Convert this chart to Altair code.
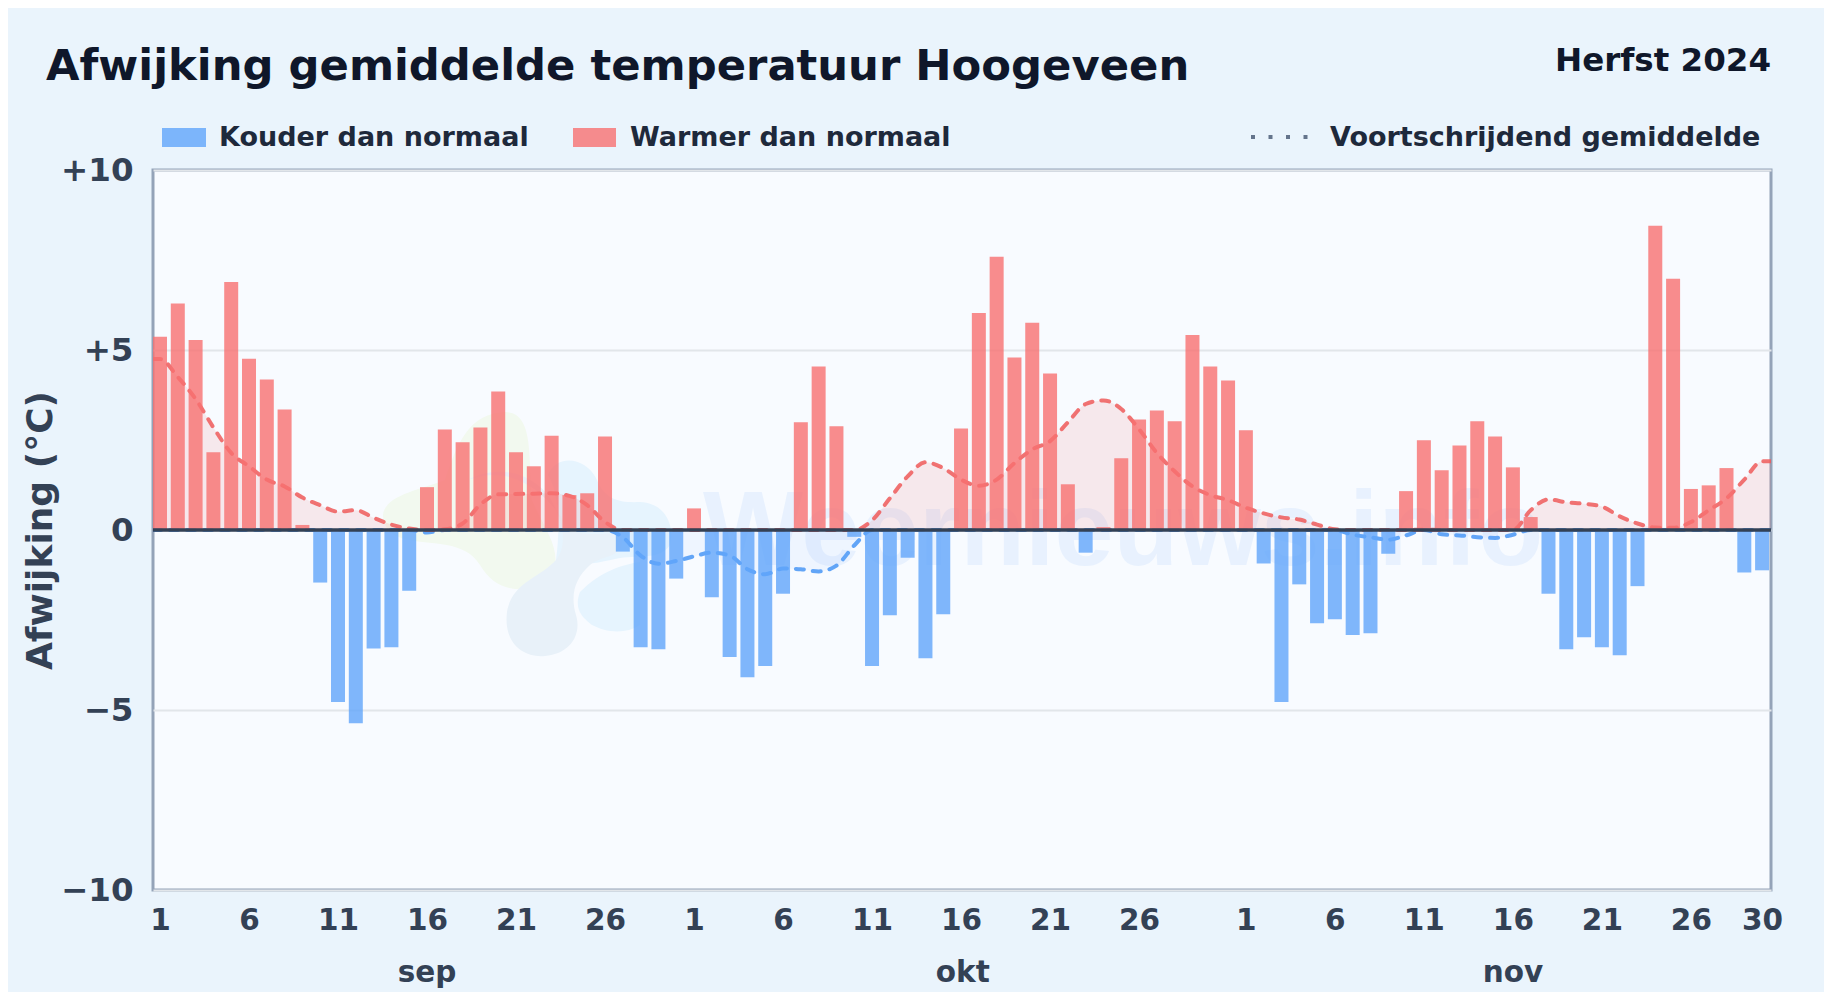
import altair as alt
import pandas as pd

DEV = [5.37, 6.29, 5.28, 2.16, 6.89, 4.76, 4.18, 3.35, 0.14, -1.46, -4.78, -5.37, -3.29, -3.26, -1.69,
       1.19, 2.79, 2.44, 2.85, 3.85, 2.16, 1.77, 2.62, 0.97, 1.02, 2.60, -0.60, -3.26, -3.31, -1.35,
       0.60, -1.87, -3.53, -4.09, -3.78, -1.77, 2.99, 4.54, 2.88, -0.19, -3.78, -2.37, -0.77, -3.56, -2.34,
       2.82, 6.03, 7.59, 4.79, 5.76, 4.35, 1.27, -0.63, 0.08, 1.99, 3.07, 3.32, 3.02, 5.42, 4.54, 4.15,
       2.77, -0.93, -4.78, -1.51, -2.59, -2.48, -2.92, -2.87, -0.66, 1.08, 2.49, 1.66, 2.35, 3.02, 2.60,
       1.74, 0.36, -1.77, -3.31, -2.98, -3.26, -3.48, -1.56, 8.45, 6.98, 1.14, 1.24, 1.72, -1.18, -1.12]
MA = [4.75, 4.25, 3.64, 2.85, 2.14, 1.77, 1.40, 1.21, 0.90, 0.69, 0.51, 0.55, 0.34, 0.15, 0.04,
      -0.07, 0.02, 0.18, 0.71, 0.99, 1.00, 1.01, 1.02, 0.95, 0.69, 0.22, -0.20, -0.71, -0.94, -0.86,
      -0.73, -0.63, -0.71, -1.09, -1.23, -1.07, -1.09, -1.15, -0.99, -0.43, 0.27, 0.88, 1.49, 1.88, 1.72,
      1.40, 1.23, 1.40, 1.86, 2.24, 2.47, 2.99, 3.50, 3.60, 3.36, 2.80, 2.14, 1.63, 1.21, 0.97, 0.83,
      0.62, 0.46, 0.35, 0.29, 0.15, 0.02, -0.13, -0.20, -0.27, -0.15, 0.01, -0.12, -0.15, -0.20, -0.22,
      -0.13, 0.55, 0.85, 0.77, 0.73, 0.65, 0.38, 0.18, 0.07, 0.06, 0.22, 0.55, 0.88, 1.40, 1.91]
TICK_POS = [0, 5, 10, 15, 20, 25, 30, 35, 40, 45, 50, 55, 61, 66, 71, 76, 81, 86, 90]
TICK_LAB = ["1", "6", "11", "16", "21", "26", "1", "6", "11", "16", "21", "26", "1", "6", "11", "16", "21", "26", "30"]
MONTHS = ["sep", "okt", "nov"]
MONTH_POS = [15, 45.1, 76]

X_DOMAIN = [-0.393, 90.5]
BG = "#eaf4fc"
SLATE = "#334155"
DARK = "#0f172a"
LEG = "#1e293b"
RED, BLUE = "#f87171", "#60a5fa"
RED_L, BLUE_L = "#ef5a5a", "#5aa0f7"
FONT = "DejaVu Sans"

bars = pd.DataFrame({"d": range(len(DEV)), "v": DEV})
bars["zero"] = 0
bars["kind"] = ["warm" if v >= 0 else "cold" for v in DEV]
line = pd.DataFrame({"d": [X_DOMAIN[0]] + list(range(len(MA))) + [X_DOMAIN[1]],
                     "m": [MA[0]] + MA + [MA[-1]]})
line["pos"] = line["m"].clip(lower=0)
line["neg"] = line["m"].clip(upper=0)
line["zero"] = 0

tick_map = "{" + ",".join(f"'{p}':'{l}'" for p, l in zip(TICK_POS, TICK_LAB)) + "}"
x_enc = alt.X("d:Q", scale=alt.Scale(domain=X_DOMAIN, nice=False, zero=False, padding=0), axis=alt.Axis(
    values=TICK_POS, labelExpr=f"{tick_map}[datum.value]", title=None, grid=False, domain=False, ticks=False,
    labelFont=FONT, labelFontWeight="bold", labelFontSize=29.5, labelColor=SLATE, labelPadding=16,
    labelOverlap=False, labelBound=False, labelFlush=False))
y_scale = alt.Scale(domain=[-10, 10], nice=False)
y_axis = alt.Axis(
    values=[-10, -5, 0, 5, 10],
    labelExpr="datum.value > 0 ? '+' + datum.value : datum.value < 0 ? '\u2212' + abs(datum.value) : '0'",
    title="Afwijking (\u00b0C)", titleFont=FONT, titleFontWeight="bold", titleFontSize=36, titleColor=SLATE,
    titleX=-102, titleY=360, titleBaseline="alphabetic", titleAngle=270,
    grid=True, gridColor="#e2e6ea", gridWidth=2, domain=False, ticks=False,
    labelFont=FONT, labelFontWeight="bold", labelFontSize=32.5, labelColor=SLATE, labelPadding=20,
    labelOverlap=False)
def y_of(field):
    return alt.Y(field, scale=y_scale, axis=y_axis)
one = alt.Data(values=[{"k": 1}])

def blob(path, color):
    return alt.Chart(one).mark_point(shape=path, size=4, filled=True, fill=color, opacity=1, strokeWidth=0).encode(
        x=alt.value(-153), y=alt.value(-170))

def label(text, x, y, size, color, align="left", font=FONT, weight="bold", opacity=1):
    return alt.Chart(alt.Data(values=[{"t": text}])).mark_text(
        align=align, baseline="alphabetic", font=font, fontWeight=weight, fontSize=size, color=color, opacity=opacity
    ).encode(text="t:N", x=alt.value(x - 153), y=alt.value(y - 170))

def swatch(x0, x1, y0, y1, color):
    return alt.Chart(one).mark_rect(color=color, opacity=0.8).encode(
        x=alt.value(x0 - 153), x2=alt.value(x1 - 153), y=alt.value(y0 - 170), y2=alt.value(y1 - 170))

BLOB_GREEN = "M383,515 C385,495 420,490 445,480 C458,440 470,414 505,412 C535,412 528,460 532,500 C545,530 562,550 553,572 C540,592 500,600 480,565 C465,540 430,545 410,540 C395,538 383,530 383,515 Z"
BLOB_GRAY = "M468,480 C495,465 530,470 550,498 C566,525 566,548 556,560 C540,578 512,582 507,612 C503,645 525,658 545,656 C570,654 582,635 576,615 C570,595 575,578 590,565 C600,556 618,558 622,545 L622,532 C600,535 580,535 570,530 C555,505 520,460 468,480 Z"
BLOB_BLUE = ("M548,475 C555,455 585,455 597,480 C605,500 620,503 640,502 C665,503 675,525 670,545 C660,560 640,555 620,558 "
             "C600,562 570,570 556,560 C560,530 560,495 548,475 Z "
             "M580,592 C600,572 620,565 640,562 L640,625 C625,635 605,632 592,625 C578,615 575,605 580,592 Z")

layers = [
    blob(BLOB_GREEN, "#f2f9ef"),
    blob(BLOB_BLUE, "#e6f4fe"),
    blob(BLOB_GRAY, "#e8f1f9"),
    label("Weernieuws.info", 703, 565, 106, "#dbeafe", font="Liberation Sans", opacity=0.55),
    alt.Chart(line).mark_area(interpolate="monotone", color="#ef4444", opacity=0.1, clip=True).encode(
        x=x_enc, y=y_of("pos:Q"), y2="zero:Q"),
    alt.Chart(line).mark_area(interpolate="monotone", color="#3b82f6", opacity=0.05, clip=True).encode(
        x=x_enc, y=y_of("neg:Q"), y2="zero:Q"),
    alt.Chart(line).mark_line(interpolate="monotone", color=BLUE_L, opacity=0.95, strokeWidth=4, strokeDash=[8, 9], strokeCap="round", clip=True).encode(
        x=x_enc, y=y_of("neg:Q")),
    alt.Chart(line).mark_line(interpolate="monotone", color=RED_L, opacity=0.85, strokeWidth=4, strokeDash=[8, 9], strokeCap="round", clip=True).encode(
        x=x_enc, y=y_of("pos:Q")),
    alt.Chart(bars).mark_bar(size=14, orient="vertical", opacity=0.8).encode(
        x=x_enc, y=y_of("v:Q"), y2="zero:Q",
        color=alt.Color("kind:N", scale=alt.Scale(domain=["warm", "cold"], range=[RED, BLUE]), legend=None)),
    alt.Chart(pd.DataFrame({"z": [0]})).mark_rule(color=SLATE, strokeWidth=3.6).encode(
        y=y_of("z:Q")),
    alt.Chart(pd.DataFrame({"d": MONTH_POS, "t": MONTHS})).mark_text(
        font=FONT, fontWeight="bold", fontSize=29.5, color=SLATE, baseline="alphabetic").encode(
        x=x_enc, y=alt.value(982 - 170), text="t:N"),
    label("Afwijking gemiddelde temperatuur Hoogeveen", 46, 80, 43.3, DARK),
    label("Herfst 2024", 1771, 71, 32.5, DARK, align="right"),
    swatch(162, 206, 128, 147, BLUE),
    label("Kouder dan normaal", 219, 146, 27, LEG),
    swatch(573, 616, 128, 147, RED),
    label("Warmer dan normaal", 630, 146, 27, LEG),
    alt.Chart(one).mark_rule(color="#64748b", strokeWidth=4, strokeDash=[4, 13.5]).encode(
        x=alt.value(1251 - 153), x2=alt.value(1308 - 153), y=alt.value(137 - 170)),
    label("Voortschrijdend gemiddelde", 1330, 146, 27, LEG),
]

chart = alt.layer(*layers).resolve_scale(color="independent").properties(
    width=1618, height=720,
    autosize=alt.AutoSizeParams(type="none"),
    padding={"left": 145, "top": 162, "right": 53, "bottom": 102},
    background=BG,
).configure_view(fill="#f8fbff", stroke="#94a3b8", strokeWidth=3)

chart.save("out.html", embed_options={"renderer": "svg", "actions": False})
